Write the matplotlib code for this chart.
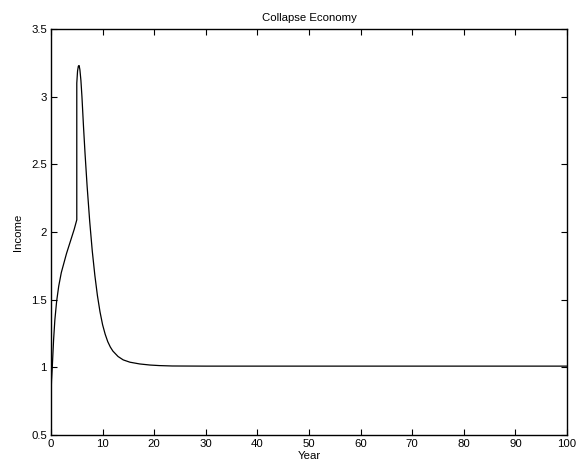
import numpy as np
import matplotlib
matplotlib.use("Agg")
import matplotlib.pyplot as plt

# Income path (jump at year 5, then decay to ~1.01)
years = [0, 0.1, 0.25, 0.5, 0.75, 1.1, 1.5, 2.0, 2.5, 3.0, 3.5, 4.0, 4.5, 5.0,
         5.0, 5.15, 5.3, 5.45, 5.6, 5.8, 6.0, 6.3, 6.6, 7.0, 7.5, 8.0, 8.5,
         9.0, 9.5, 10.0, 10.5, 11.0, 11.5, 12.0, 13.0, 14.0, 15.3, 17.2, 19.2,
         21.0, 23.5, 30.0, 100.0]
income = [0.78, 0.9, 1.0, 1.2, 1.35, 1.49, 1.6, 1.7, 1.77, 1.84, 1.9, 1.96, 2.02, 2.09,
          3.10, 3.19, 3.225, 3.23, 3.20, 3.12, 3.0, 2.78, 2.58, 2.34, 2.08, 1.86, 1.68,
          1.53, 1.41, 1.315, 1.245, 1.19, 1.15, 1.12, 1.08, 1.055, 1.038, 1.025, 1.017,
          1.013, 1.01, 1.009, 1.009]

xticks = np.arange(0, 101, 10)
yticks = [0.5, 1, 1.5, 2, 2.5, 3, 3.5]

plt.rcParams["font.family"] = ["Liberation Sans", "DejaVu Sans"]
plt.rcParams["font.size"] = 8.2

fig = plt.figure(figsize=(5.8, 4.67), dpi=100)
ax = fig.add_axes([0.0879, 0.0685, 0.8897, 0.8694])
ax.plot(years, income, color="black", lw=0.9)

ax.set_xlim(0, 100)
ax.set_ylim(0.5, 3.5)
ax.set_xticks(xticks)
ax.set_yticks(yticks)
ax.set_yticklabels(["0.5", "1", "1.5", "2", "2.5", "3", "3.5"])
ax.tick_params(direction="in", top=True, right=True, length=4, width=0.8, pad=3,
               labelsize=8.2)
for s in ax.spines.values():
    s.set_linewidth(1.0)

ax.set_title("Collapse Economy", fontsize=8.2, pad=6)
ax.set_xlabel("Year", fontsize=8.2, labelpad=1)
ax.set_ylabel("Income", fontsize=8.2, labelpad=6)

fig.savefig("out.png", dpi=100)
